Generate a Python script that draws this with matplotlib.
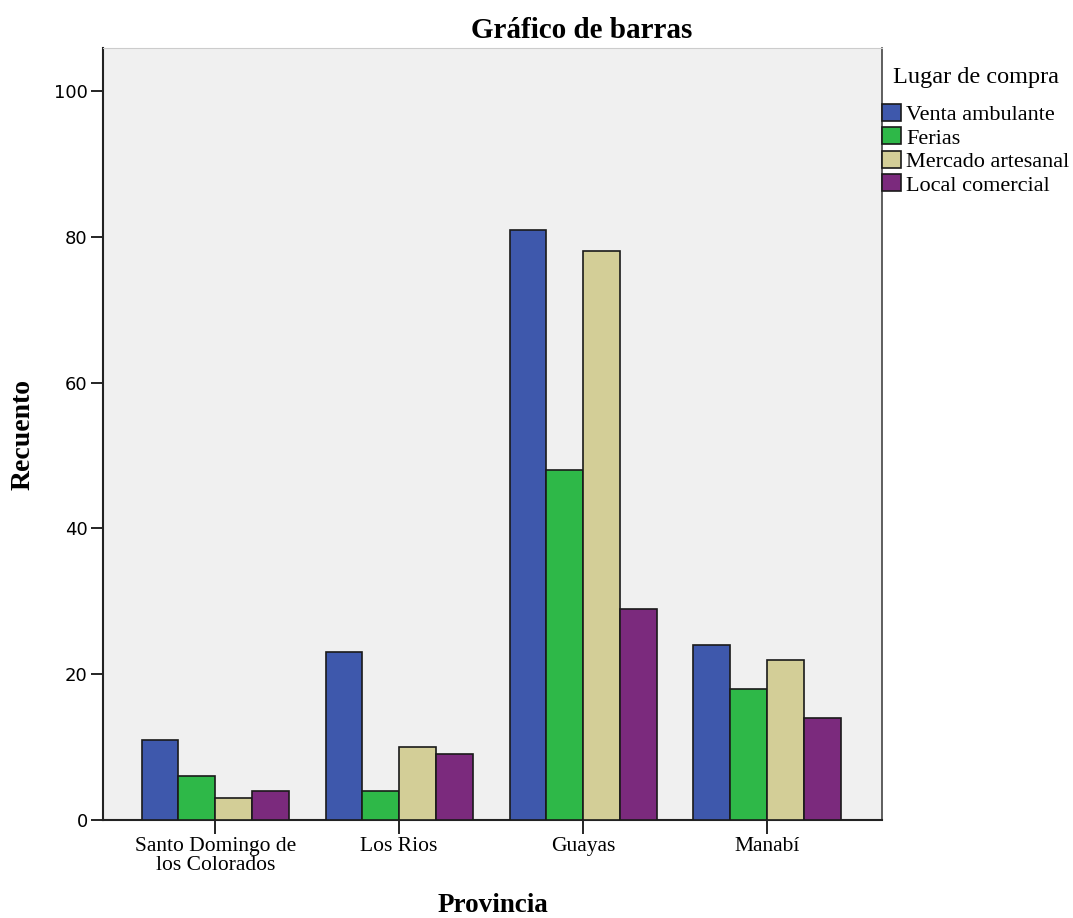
import numpy as np
import matplotlib
matplotlib.use("Agg")
import matplotlib.pyplot as plt

# data
provincias = ["Santo Domingo de\nlos Colorados", "Los Rios", "Guayas", "Manabí"]
lugares = ["Venta ambulante", "Ferias", "Mercado artesanal", "Local comercial"]
venta_ambulante = [11, 23, 81, 24]
ferias = [6, 4, 48, 18]
mercado_artesanal = [3, 10, 78, 22]
local_comercial = [4, 9, 29, 14]
colores = ["#3E58AC", "#2EB848", "#D3CE97", "#7B2A7D"]

series = [venta_ambulante, ferias, mercado_artesanal, local_comercial]
serif = "Liberation Serif"

fig = plt.figure(figsize=(10.73, 9.18), dpi=100)
ax = fig.add_axes([103/1073, 98/918, 779/1073, 772/918])
ax.set_facecolor("#F0F0F0")

x = np.arange(len(provincias))
w = 0.2
for i, (vals, lab, col) in enumerate(zip(series, lugares, colores)):
    ax.bar(x + (i - 1.5) * w, vals, w, color=col, edgecolor="#1a1a1a",
           linewidth=1.2, label=lab, zorder=3)

ax.set_xlim(-0.61, 3.625)
ax.set_ylim(0, 105.9)
ax.set_yticks([0, 20, 40, 60, 80, 100])
ax.set_xticks(x)
ax.set_xticklabels(provincias, family=serif, fontsize=15.5, linespacing=1.05)
for t in ax.get_yticklabels():
    t.set_family("DejaVu Sans")
    t.set_fontsize(13)
ax.tick_params(axis="y", length=9, width=1.2, pad=2)
ax.tick_params(axis="x", length=10, width=1.2, pad=2)

for s in ["left", "bottom"]:
    ax.spines[s].set_linewidth(1.5)
    ax.spines[s].set_color("#222222")
ax.spines["top"].set_color("#cccccc")
ax.spines["right"].set_color("#444444")
ax.spines["right"].set_linewidth(1.2)

ax.set_ylabel("Recuento", family=serif, fontweight="bold", fontsize=20)
ax.yaxis.set_label_coords(-0.087, 0.5)
ax.set_xlabel("Provincia", family=serif, fontweight="bold", fontsize=19.5)
ax.xaxis.set_label_coords(0.5, -0.094)

fig.text(582/1073, 1 - 31/918, "Gráfico de barras", family=serif,
         fontweight="bold", fontsize=21, ha="center", va="center")

# legend title drawn apart so the gap below it matches
fig.text(893/1073, 1 - 78/918, "Lugar de compra", family=serif,
         fontsize=17.5, ha="left", va="center")
leg = fig.legend(loc="upper left", bbox_to_anchor=(882/1073, 1 - 104/918),
                 frameon=False, prop={"family": serif, "size": 16},
                 handlelength=0.85, handleheight=0.8, handletextpad=0.25,
                 labelspacing=0.1, borderaxespad=0, borderpad=0)
for p in leg.get_patches():
    p.set_linewidth(1.2)

fig.savefig("out.png", dpi=100)
